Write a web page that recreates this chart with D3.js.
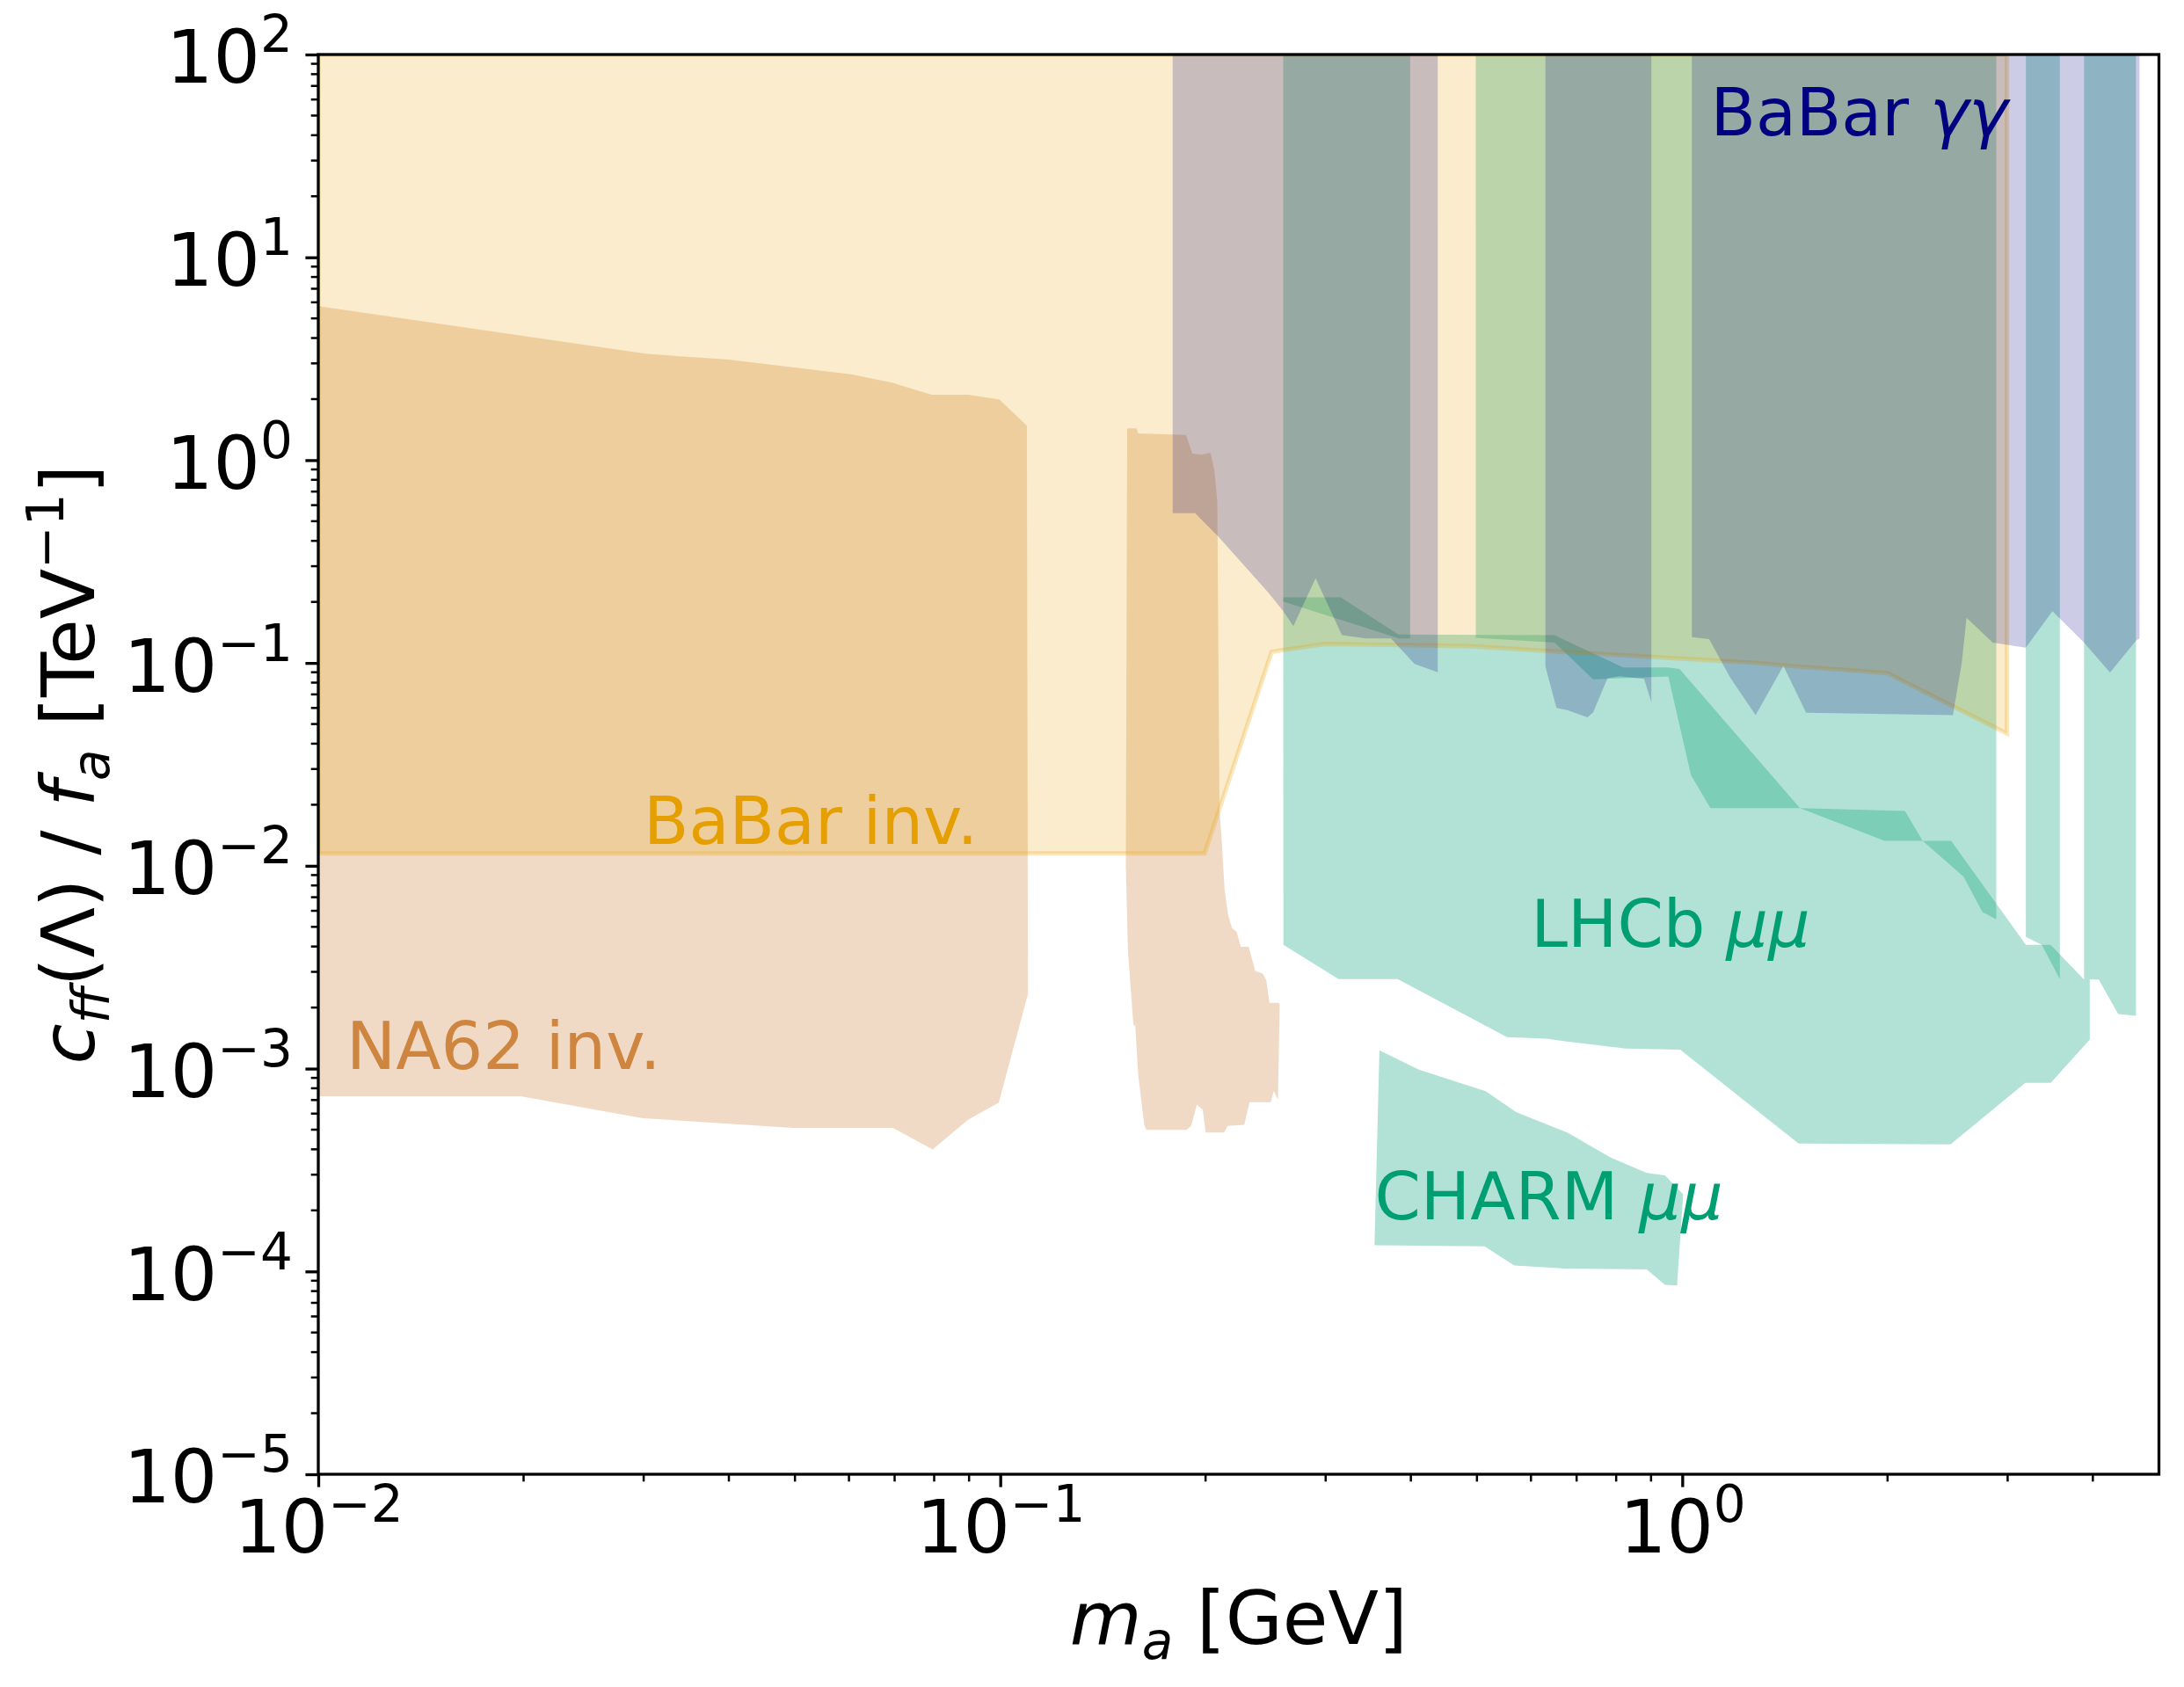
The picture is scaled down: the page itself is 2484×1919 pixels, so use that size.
<!DOCTYPE html>
<html>
<head>
<meta charset="utf-8">
<script src="https://cdn.jsdelivr.net/npm/d3@7"></script>
<style>
  body { margin: 0; background: #fff; }
  svg { display: block; font-family: "DejaVu Sans", sans-serif; }
</style>
</head>
<body>
<script>
// ---- data (m_a in GeV, c/f_a in TeV^-1) ----

// BaBar invisible: filled from the top of the plot down to this boundary
var babarInvX   = [0.01, 0.1994, 0.250, 0.2995, 0.486, 0.650, 1.291, 1.402, 1.998, 2.993];
var babarInvLow = [0.0115, 0.0115, 0.1135, 0.124, 0.121, 0.114, 0.0998, 0.0974, 0.089, 0.0449];

// NA62 invisible, two closed regions
var na62AX = [0.01, 0.0303, 0.0399, 0.0604, 0.0694, 0.0793, 0.0897, 0.0997, 0.1094, 0.1098,
              0.0995, 0.0897, 0.0796, 0.0696, 0.0497, 0.0299, 0.0198, 0.01];
var na62AY = [5.75, 3.34, 3.13, 2.65, 2.41, 2.10, 2.10, 1.99, 1.48, 0.00234,
              0.00068, 0.00056, 0.00040, 0.00051, 0.00051, 0.00057, 0.00073, 0.00073];
var na62BX = [0.1535, 0.1585, 0.1593, 0.1872, 0.1913, 0.1971, 0.2034, 0.2061, 0.2081, 0.2096,
              0.2112, 0.2133, 0.2159, 0.2187, 0.2220, 0.2253, 0.2313, 0.2366, 0.2426, 0.2455,
              0.2481, 0.2554, 0.2569, 0.2554, 0.2518, 0.2493, 0.2320, 0.2279, 0.2155, 0.2129,
              0.2001, 0.1981, 0.1942, 0.1905, 0.1876, 0.1637, 0.1626, 0.1593, 0.1578, 0.1567,
              0.1539, 0.1528];
var na62BY = [1.434, 1.434, 1.354, 1.330, 1.077, 1.064, 1.088, 0.881, 0.624, 0.0190,
              0.0134, 0.00758, 0.00569, 0.00493, 0.00474, 0.00399, 0.00399, 0.00303, 0.00294, 0.00273,
              0.00211, 0.00211, 0.00209, 0.000703, 0.000775, 0.000683, 0.000683, 0.000528, 0.000522, 0.000484,
              0.000484, 0.000627, 0.000664, 0.000522, 0.000499, 0.000499, 0.000528, 0.000936, 0.00161, 0.00166,
              0.00381, 0.00981];

// LHCb mumu, displaced search (closed region)
var lhcbDispX = [0.260, 0.3157, 0.3836, 0.650, 0.8194, 0.9541, 0.991, 1.488, 2.121, 2.252,
                 2.479, 3.190, 3.469, 3.883, 3.959, 3.959, 3.470, 3.184, 2.474, 1.481,
                 0.993, 0.8255, 0.6656, 0.6324, 0.5534, 0.3826, 0.3134, 0.2601];
var lhcbDispY = [0.2104, 0.2104, 0.1381, 0.1370, 0.0950, 0.0950, 0.0934, 0.01925, 0.01862, 0.01327,
                 0.01327, 0.00408, 0.00408, 0.00275, 0.00275, 0.00139, 0.000851, 0.000851, 0.000423, 0.000427,
                 0.00124, 0.001256, 0.00137, 0.001404, 0.001429, 0.00276, 0.00276, 0.00408];

// LHCb mumu, prompt search: bands filled from the top down to these boundaries
var lhcbPrompt1X = [0.260, 0.384, 0.399];
var lhcbPrompt1Low = [0.201, 0.132, 0.132];
var lhcbPrompt2X = [0.498, 0.650, 0.740, 0.954, 1.030, 1.100, 1.488, 1.981, 2.252, 2.585, 2.755, 2.887];
var lhcbPrompt2Low = [0.133, 0.126, 0.083, 0.0857, 0.0279, 0.01925, 0.01925, 0.01327, 0.01327, 0.00884, 0.00592, 0.00545];
var lhcbPrompt3X = [3.190, 3.366, 3.578];
var lhcbPrompt3Low = [0.00446, 0.00408, 0.00276];
var lhcbPrompt4X = [3.883, 4.081, 4.357, 4.627];
var lhcbPrompt4Low = [0.00275, 0.00275, 0.00186, 0.00182];

// CHARM mumu (closed region)
var charmX = [0.3597, 0.4110, 0.5150, 0.5706, 0.6794, 0.7842, 0.8870, 0.9432, 1.003, 0.9826,
              0.9432, 0.8870, 0.6724, 0.5671, 0.5129, 0.3538];
var charmY = [0.00123, 0.000989, 0.000774, 0.000610, 0.000483, 0.000365, 0.000306, 0.000298, 0.000240, 0.0000853,
              0.0000859, 0.0001023, 0.0001034, 0.0001071, 0.000133, 0.0001345];

// BaBar gamma gamma: three bands filled from the top down
var babarGG1X = [0.179, 0.193, 0.209, 0.247, 0.260, 0.269, 0.290, 0.317, 0.344, 0.374, 0.405, 0.438];
var babarGG1Low = [0.548, 0.548, 0.418, 0.223, 0.180, 0.152, 0.262, 0.137, 0.132, 0.132, 0.099, 0.090];
var babarGG2X = [0.630, 0.654, 0.678, 0.726, 0.740, 0.777, 0.809, 0.879, 0.901];
var babarGG2Low = [0.096, 0.060, 0.0585, 0.054, 0.057, 0.084, 0.086, 0.0835, 0.064];
var babarGG3X = [1.033, 1.095, 1.175, 1.281, 1.407, 1.519, 2.494, 2.570, 2.611, 2.853,
                 3.190, 3.490, 3.883, 4.239, 4.627, 4.683];
var babarGG3Low = [0.134, 0.131, 0.085, 0.0553, 0.0967, 0.0569, 0.0553, 0.1007, 0.167, 0.126,
                   0.119, 0.180, 0.126, 0.0897, 0.129, 0.132];

// axes
var xDomain = [0.01, 5];
var yDomain = [1e-5, 100];
var xMajor = [-2, -1, 0];
var yMajor = [-5, -4, -3, -2, -1, 0, 1, 2];

// text labels [x, y, plain part, italic part, colour]
var regionLabels = [
  [1.1, 40, "BaBar ", "\u03b3\u03b3", "#000080"],
  [0.03, 0.0128, "BaBar inv.", "", "#E69F00"],
  [0.011, 0.001, "NA62 inv.", "", "#CD853F"],
  [0.6, 0.004, "LHCb ", "\u03bc\u03bc", "#009E73"],
  [0.354, 0.00018, "CHARM ", "\u03bc\u03bc", "#009E73"]
];

// ---- layout ----
var W = 2484, H = 1919;
var margin = {top: 62, right: 28.5, bottom: 242, left: 362};
var tickFont = 84, supFont = 58, labelFont = 75;

var x = d3.scaleLog().domain(xDomain).range([margin.left, W - margin.right]);
var y = d3.scaleLog().domain(yDomain).range([H - margin.bottom, margin.top]);

var svg = d3.select("body").append("svg")
  .attr("width", W)
  .attr("height", H);

svg.append("rect").attr("width", W).attr("height", H).attr("fill", "#fff");

svg.append("defs").append("clipPath").attr("id", "clip")
  .append("rect")
  .attr("x", margin.left).attr("y", margin.top)
  .attr("width", x.range()[1] - margin.left)
  .attr("height", y.range()[0] - margin.top);

var plot = svg.append("g").attr("clip-path", "url(#clip)");

function zip(xs, ys) {
  return xs.map(function(v, i) { return [v, ys[i]]; });
}

var fromTop = d3.area()
  .x(function(d) { return x(d[0]); })
  .y0(y(yDomain[1]))
  .y1(function(d) { return y(d[1]); });

var polyLine = d3.line()
  .x(function(d) { return x(d[0]); })
  .y(function(d) { return y(d[1]); })
  .curve(d3.curveLinearClosed);

// drawing order matters for the colour of the overlaps:
// NA62, LHCb, CHARM, BaBar inv., BaBar gamma gamma

// NA62 inv.
[[na62AX, na62AY], [na62BX, na62BY]].forEach(function(r) {
  plot.append("path")
    .attr("d", polyLine(zip(r[0], r[1])))
    .attr("fill", "#CD853F").attr("fill-opacity", 0.3);
});

// LHCb displaced + prompt
plot.append("path")
  .attr("d", polyLine(zip(lhcbDispX, lhcbDispY)))
  .attr("fill", "#009E73").attr("fill-opacity", 0.3);

[[lhcbPrompt1X, lhcbPrompt1Low], [lhcbPrompt2X, lhcbPrompt2Low],
 [lhcbPrompt3X, lhcbPrompt3Low], [lhcbPrompt4X, lhcbPrompt4Low]].forEach(function(r) {
  plot.append("path")
    .attr("d", fromTop(zip(r[0], r[1])))
    .attr("fill", "#009E73").attr("fill-opacity", 0.3);
});

// CHARM
plot.append("path")
  .attr("d", polyLine(zip(charmX, charmY)))
  .attr("fill", "#009E73").attr("fill-opacity", 0.3);

// BaBar inv.
plot.append("path")
  .attr("d", fromTop(zip(babarInvX, babarInvLow)))
  .attr("fill", "#E69F00").attr("fill-opacity", 0.2)
  .attr("stroke", "#E69F00").attr("stroke-opacity", 0.25).attr("stroke-width", 5);

// BaBar gamma gamma
[[babarGG1X, babarGG1Low], [babarGG2X, babarGG2Low], [babarGG3X, babarGG3Low]].forEach(function(r) {
  plot.append("path")
    .attr("d", fromTop(zip(r[0], r[1])))
    .attr("fill", "#000080").attr("fill-opacity", 0.2);
});

// region labels
regionLabels.forEach(function(l) {
  var t = svg.append("text")
    .attr("x", x(l[0])).attr("y", y(l[1]))
    .attr("font-size", labelFont)
    .attr("fill", l[4]);
  t.append("tspan").text(l[2]);
  if (l[3]) t.append("tspan").attr("font-style", "italic").text(l[3]);
});

// ---- axes ----
var minus = "\u2212";
function powLabel(sel, e) {
  sel.text(null);
  sel.append("tspan").text("10");
  sel.append("tspan").attr("dy", -35).attr("font-size", supFont)
    .text(e < 0 ? minus + (-e) : String(e));
}

var xAxis = d3.axisBottom(x)
  .tickValues(xMajor.map(function(e) { return Math.pow(10, e); }))
  .tickSize(14.6).tickSizeOuter(0).tickPadding(14.6);

var gx = svg.append("g")
  .attr("transform", "translate(0," + y.range()[0] + ")")
  .call(xAxis);
gx.select(".domain").remove();
gx.selectAll(".tick line").attr("stroke", "#000").attr("stroke-width", 3.3);
gx.selectAll(".tick text")
  .attr("font-size", tickFont).attr("font-family", "DejaVu Sans").attr("fill", "#000")
  .each(function(d) { powLabel(d3.select(this), Math.round(Math.log10(d))); });

var yAxis = d3.axisLeft(y)
  .tickValues(yMajor.map(function(e) { return Math.pow(10, e); }))
  .tickSize(14.6).tickSizeOuter(0).tickPadding(14.6);

var gy = svg.append("g")
  .attr("transform", "translate(" + margin.left + ",0)")
  .call(yAxis);
gy.select(".domain").remove();
gy.selectAll(".tick line").attr("stroke", "#000").attr("stroke-width", 3.3);
gy.selectAll(".tick text")
  .attr("font-size", tickFont).attr("font-family", "DejaVu Sans").attr("fill", "#000")
  .attr("dy", "0.38em")
  .each(function(d) { powLabel(d3.select(this), Math.round(Math.log10(d))); });

// minor ticks
var xMinor = [], yMinor = [];
d3.range(-2, 1).forEach(function(e) {
  d3.range(2, 10).forEach(function(m) {
    var v = m * Math.pow(10, e);
    if (v < xDomain[1]) xMinor.push(v);
  });
});
d3.range(-5, 2).forEach(function(e) {
  d3.range(2, 10).forEach(function(m) { yMinor.push(m * Math.pow(10, e)); });
});

svg.append("g").selectAll("line").data(xMinor).join("line")
  .attr("x1", function(d) { return x(d); }).attr("x2", function(d) { return x(d); })
  .attr("y1", y.range()[0]).attr("y2", y.range()[0] + 8.3)
  .attr("stroke", "#000").attr("stroke-width", 2.5);

svg.append("g").selectAll("line").data(yMinor).join("line")
  .attr("y1", function(d) { return y(d); }).attr("y2", function(d) { return y(d); })
  .attr("x1", margin.left).attr("x2", margin.left - 8.3)
  .attr("stroke", "#000").attr("stroke-width", 2.5);

// frame
svg.append("rect")
  .attr("x", margin.left).attr("y", margin.top)
  .attr("width", x.range()[1] - margin.left)
  .attr("height", y.range()[0] - margin.top)
  .attr("fill", "none").attr("stroke", "#000").attr("stroke-width", 3.3);

// axis titles
var xt = svg.append("text")
  .attr("x", (x.range()[0] + x.range()[1]) / 2)
  .attr("y", 1870)
  .attr("text-anchor", "middle")
  .attr("font-size", tickFont);
xt.append("tspan").attr("font-style", "italic").text("m");
xt.append("tspan").attr("font-style", "italic").attr("font-size", supFont).attr("dy", 17).text("a");
xt.append("tspan").attr("dy", -17).text(" [GeV]");

var yt = svg.append("text")
  .attr("transform", "translate(107," + (y.range()[0] + y.range()[1]) / 2 + ") rotate(-90)")
  .attr("text-anchor", "middle")
  .attr("font-size", tickFont);
yt.append("tspan").attr("font-style", "italic").text("c");
yt.append("tspan").attr("font-style", "italic").attr("font-size", supFont).attr("dy", 17).text("ff");
yt.append("tspan").attr("dy", -17).text("(\u039b) / ");
yt.append("tspan").attr("font-style", "italic").text("f");
yt.append("tspan").attr("font-style", "italic").attr("font-size", supFont).attr("dy", 17).text("a");
yt.append("tspan").attr("dy", -17).text(" [TeV");
yt.append("tspan").attr("font-size", supFont).attr("dy", -35).text(minus + "1");
yt.append("tspan").attr("dy", 35).text("]");
</script>
</body>
</html>
